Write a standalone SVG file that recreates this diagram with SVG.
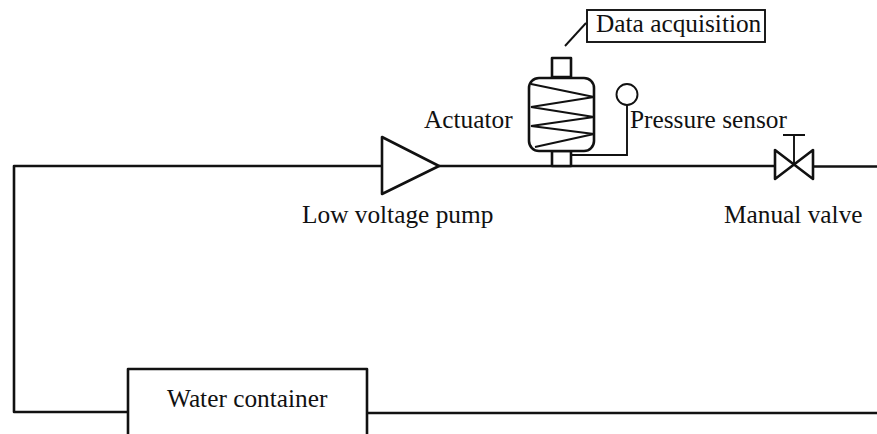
<svg xmlns="http://www.w3.org/2000/svg" width="877" height="434" viewBox="0 0 877 434">
<style>
.l{fill:none;stroke:#111;stroke-width:2.600;stroke-linejoin:round}
.m{fill:none;stroke:#111;stroke-width:1.900}
.n{fill:#fff;stroke:#111;stroke-width:2.600;stroke-linejoin:round}
text{font-family:"Liberation Serif","Times New Roman",serif;font-size:25.330px;fill:#111}
</style>
<rect width="877" height="434" fill="#fff"/>
<g id="connectors">
<path class="l" d="M381 166H14V412H128"/>
<path class="l" d="M439 166H775"/>
<path class="l" d="M814 166.500H877"/>
<path class="l" d="M367 413H877"/>
<path class="m" d="M571 155H627V105"/>
<path class="m" d="M565 46L586 23"/>
</g>
<g id="pump">
<path class="n" d="M382 137V194L439 166Z"/>
<text x="302" y="223">Low voltage pump</text>
</g>
<g id="actuator">
<rect class="n" x="552" y="58" width="19" height="19"/>
<rect class="n" x="552" y="151" width="19" height="15"/>
<rect class="n" x="529" y="78" width="65" height="73" rx="10"/>
<path class="m" d="M531 84L594 97L531 107L594 117L531 126L594 134L535 147"/>
<text x="424" y="128">Actuator</text>
</g>
<g id="sensor">
<circle class="m" cx="627" cy="94.500" r="10.500" fill="#fff"/>
<text x="630" y="128">Pressure sensor</text>
</g>
<g id="data-acquisition">
<rect class="m" x="587" y="10" width="178" height="32" fill="#fff"/>
<text x="596" y="32">Data acquisition</text>
</g>
<g id="valve">
<path class="n" d="M775 150V179L794 164.500ZM813 150V179L794 164.500Z"/>
<path class="m" d="M794 164.500V135M783 135H805"/>
<text x="724" y="223">Manual valve</text>
</g>
<g id="water-container">
<path class="n" d="M128 434V369H367V434"/>
<text x="167" y="407">Water container</text>
</g>
</svg>
